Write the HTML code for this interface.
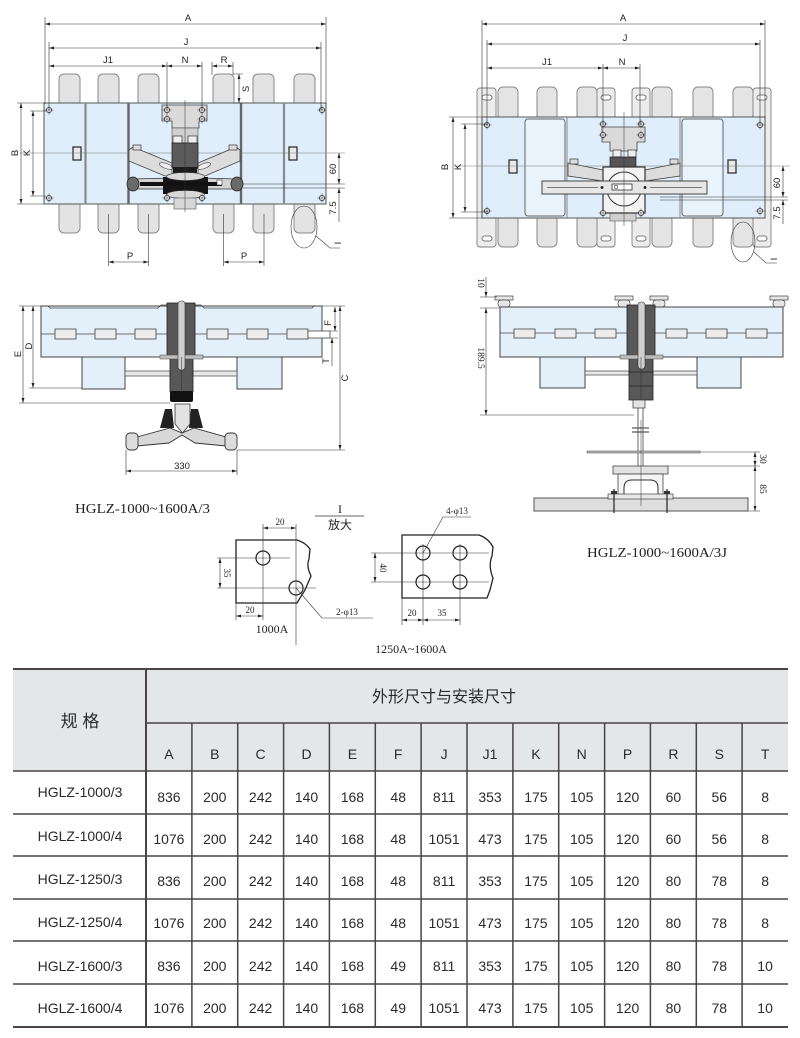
<!DOCTYPE html>
<html><head><meta charset="utf-8"><style>
html,body{margin:0;padding:0;background:#fff}
svg{display:block}
.s{font-family:"Liberation Sans",sans-serif}
.r{font-family:"Liberation Serif",serif}
.c{font-family:"Liberation Sans","Noto Sans CJK SC",sans-serif}
.d{marker-start:url(#m);marker-end:url(#m)}
.de{marker-end:url(#m)}
.ds{marker-start:url(#m)}
</style></head><body>
<svg width="800" height="1038" viewBox="0 0 800 1038" xmlns="http://www.w3.org/2000/svg">
<defs>
<marker id="m" viewBox="0 0 10 6" refX="10" refY="3" markerWidth="5" markerHeight="3" markerUnits="userSpaceOnUse" orient="auto-start-reverse"><path d="M0,0L10,3L0,6z" fill="#222"/></marker>
<g id="h"><circle r="2.6" fill="#fff" stroke="#333" stroke-width=".8"/><path d="M-4.5,0H4.5M0,-4.5V4.5" stroke="#333" stroke-width=".5"/></g>
</defs>
<rect width="800" height="1038" fill="#fff"/>

<!-- ================= LEFT TOP VIEW ================= -->
<g fill="#e3e3e3" stroke="#8a8a8a" stroke-width="1">
<rect x="59" y="74" width="21" height="34" rx="5"/>
<rect x="98" y="74" width="21" height="34" rx="5"/>
<rect x="138" y="74" width="21" height="34" rx="5"/>
<rect x="213" y="74" width="21" height="34" rx="5"/>
<rect x="253" y="74" width="21" height="34" rx="5"/>
<rect x="294" y="74" width="21" height="34" rx="5"/>
<rect x="59" y="199" width="21" height="34" rx="5"/>
<rect x="98" y="199" width="21" height="34" rx="5"/>
<rect x="138" y="199" width="21" height="34" rx="5"/>
<rect x="213" y="199" width="21" height="34" rx="5"/>
<rect x="253" y="199" width="21" height="34" rx="5"/>
<rect x="294" y="199" width="21" height="34" rx="5"/>
</g>
<rect x="44" y="103" width="282" height="101" fill="#dfeefa" stroke="#555" stroke-width="1"/>
<line x1="85.5" y1="103" x2="85.5" y2="204" stroke="#8a8a8a" stroke-width="2.2"/>
<line x1="128.5" y1="103" x2="128.5" y2="204" stroke="#666" stroke-width="2.4"/>
<line x1="241" y1="103" x2="241" y2="204" stroke="#666" stroke-width="2.4"/>
<line x1="284" y1="103" x2="284" y2="204" stroke="#8a8a8a" stroke-width="2.2"/>
<rect x="73" y="147" width="8" height="13" fill="#e8e8e8" stroke="#333" stroke-width="1.3"/>
<rect x="289" y="147" width="8" height="13" fill="#e8e8e8" stroke="#333" stroke-width="1.3"/>
<line x1="20" y1="153" x2="345" y2="153" stroke="#777" stroke-width=".5"/>
<polygon points="162,105 207,105 207,121 199,121 199,128 172,128 172,121 162,121" fill="#dadada" stroke="#444" stroke-width=".8"/>
<rect x="172" y="128" width="26" height="15" fill="#d0d0d0" stroke="#555" stroke-width=".6"/>
<rect x="173" y="136" width="9" height="8" fill="#eee" stroke="#333" stroke-width=".7"/>
<rect x="188" y="136" width="9" height="8" fill="#eee" stroke="#333" stroke-width=".7"/>
<polygon points="129,150 133,147 172,163 172,176 165,176 129,161" fill="#dcdcdc" stroke="#444" stroke-width=".8"/>
<polygon points="240,150 236,147 198,163 198,176 205,176 240,161" fill="#dcdcdc" stroke="#444" stroke-width=".8"/>
<ellipse cx="166" cy="166" rx="7" ry="2.5" transform="rotate(20 166 166)" fill="#eee" stroke="#444" stroke-width=".6"/>
<ellipse cx="204" cy="166" rx="7" ry="2.5" transform="rotate(-20 204 166)" fill="#eee" stroke="#444" stroke-width=".6"/>
<rect x="133" y="145" width="8" height="5" fill="#ddd" stroke="#333" stroke-width=".7"/>
<rect x="229" y="145" width="8" height="5" fill="#ddd" stroke="#333" stroke-width=".7"/>
<rect x="172" y="143" width="26" height="25" fill="#5b5b5b" stroke="#222" stroke-width=".8"/>
<rect x="173" y="167" width="24" height="8" fill="#1c1c1c"/>
<polygon points="134,179 170,178 170,189 134,189" fill="#d5d5d5" stroke="#333" stroke-width=".7"/>
<polygon points="236,179 200,178 200,189 236,189" fill="#d5d5d5" stroke="#333" stroke-width=".7"/>
<rect x="163" y="177" width="45" height="17" fill="#151515"/>
<ellipse cx="185.5" cy="176.5" rx="19" ry="4" fill="#d8d8d8" stroke="#333" stroke-width=".6"/>
<ellipse cx="185.5" cy="194.5" rx="19" ry="4" fill="#d8d8d8" stroke="#333" stroke-width=".6"/>
<rect x="140" y="182" width="82" height="4" fill="#111"/>
<rect x="217" y="180" width="5" height="5" fill="#fff" stroke="#333" stroke-width=".6"/>
<ellipse cx="133" cy="184" rx="6" ry="7" fill="#6a6a6a" stroke="#222" stroke-width=".8"/>
<ellipse cx="237" cy="184" rx="6" ry="7" fill="#6a6a6a" stroke="#222" stroke-width=".8"/>
<rect x="174" y="198" width="22" height="11" fill="#d7d7d7" stroke="#555" stroke-width=".6"/>
<line x1="185" y1="100" x2="185" y2="212" stroke="#333" stroke-width=".5"/>
<use href="#h" x="49" y="110"/><use href="#h" x="49" y="198"/>
<use href="#h" x="322" y="110"/><use href="#h" x="322" y="198"/>
<use href="#h" x="167" y="110"/><use href="#h" x="202" y="110"/>
<use href="#h" x="167" y="119"/><use href="#h" x="202" y="119"/>
<use href="#h" x="167" y="198"/><use href="#h" x="202" y="198"/>
<g stroke="#333" stroke-width=".6" fill="none">
<path d="M45,17V104M326,17V104M49,42V110M321,42V110M167,62V110M202,62V110M212,62V75M233,62V75"/>
<path class="d" d="M45,24H326"/>
<path class="d" d="M49,48H321"/>
<path class="d" d="M49,66H167"/>
<path class="d" d="M167,66H202"/>
<path class="d" d="M212,66H233"/>
<path d="M233,74H243M233,103H243"/>
<path class="d" d="M239,74V103"/>
<path d="M17,103H44M17,204H44M30,111H46M30,196H46"/>
<path class="d" d="M21,103V204"/>
<path class="d" d="M33,111V196"/>
<path d="M243,184H345M243,188H345"/>
<path class="d" d="M339,153V184"/>
<path class="ds" d="M339,188V222"/>
<path d="M108.5,214V266M148.5,214V266M223.5,214V266M264,214V266"/>
<path class="d" d="M108.5,262H148.5"/>
<path class="d" d="M223.5,262H264"/>
<ellipse cx="304" cy="227" rx="13" ry="21"/>
<path d="M316,236L330,248H340"/>
</g>
<g class="s" font-size="9.5" fill="#222" text-anchor="middle">
<text x="188" y="21">A</text>
<text x="186" y="45">J</text>
<text x="108" y="63">J1</text>
<text x="185" y="63">N</text>
<text x="224" y="63">R</text>
<text x="130" y="259">P</text>
<text x="244" y="259">P</text>
<text transform="translate(249,89) rotate(-90)">S</text>
<text transform="translate(18,153) rotate(-90)">B</text>
<text transform="translate(30,153) rotate(-90)">K</text>
<text transform="translate(336,169) rotate(-90)">60</text>
<text transform="translate(336,208) rotate(-90)">7.5</text>
<text transform="translate(341,243) rotate(-90)">I</text>
</g>

<!-- ================= RIGHT TOP VIEW ================= -->
<g fill="#ececec" stroke="#808080" stroke-width=".9">
<rect x="477" y="88" width="19" height="159" rx="3"/>
<rect x="597" y="88" width="18" height="159" rx="3"/>
<rect x="632" y="88" width="18" height="159" rx="3"/>
<rect x="753" y="88" width="18" height="159" rx="3"/>
</g>
<g fill="#fff" stroke="#555" stroke-width=".8">
<rect x="482" y="95" width="10" height="5" rx="2.5"/><rect x="482" y="236" width="10" height="5" rx="2.5"/>
<rect x="601" y="95" width="10" height="5" rx="2.5"/><rect x="601" y="236" width="10" height="5" rx="2.5"/>
<rect x="636" y="95" width="10" height="5" rx="2.5"/><rect x="636" y="236" width="10" height="5" rx="2.5"/>
<rect x="757" y="95" width="10" height="5" rx="2.5"/><rect x="757" y="236" width="10" height="5" rx="2.5"/>
</g>
<g fill="#e4e4e4" stroke="#8a8a8a" stroke-width="1">
<rect x="498" y="87" width="20" height="33" rx="5"/>
<rect x="537" y="87" width="20" height="33" rx="5"/>
<rect x="577" y="87" width="20" height="33" rx="5"/>
<rect x="652" y="87" width="20" height="33" rx="5"/>
<rect x="693" y="87" width="20" height="33" rx="5"/>
<rect x="733" y="87" width="20" height="33" rx="5"/>
<rect x="498" y="215" width="20" height="32" rx="5"/>
<rect x="537" y="215" width="20" height="32" rx="5"/>
<rect x="577" y="215" width="20" height="32" rx="5"/>
<rect x="652" y="215" width="20" height="32" rx="5"/>
<rect x="693" y="215" width="20" height="32" rx="5"/>
<rect x="733" y="215" width="20" height="32" rx="5"/>
</g>
<rect x="482" y="117" width="283" height="101" fill="#dfeefa" stroke="#555" stroke-width="1"/>
<rect x="525" y="119" width="40" height="97" rx="3" fill="#e8f3fc" stroke="#666" stroke-width="1"/>
<rect x="682" y="119" width="41" height="97" rx="3" fill="#e8f3fc" stroke="#666" stroke-width="1"/>
<line x1="567" y1="117" x2="567" y2="218" stroke="#888" stroke-width="1"/>
<line x1="680" y1="117" x2="680" y2="218" stroke="#888" stroke-width="1"/>
<rect x="509" y="160" width="8" height="13" fill="#e8e8e8" stroke="#333" stroke-width="1.3"/>
<rect x="728" y="160" width="8" height="13" fill="#e8e8e8" stroke="#333" stroke-width="1.3"/>
<line x1="455" y1="166" x2="790" y2="166" stroke="#777" stroke-width=".5"/>
<polygon points="602,127 645,127 645,142 637,142 637,151 610,151 610,142 602,142" fill="#dadada" stroke="#444" stroke-width=".8"/>
<rect x="613" y="150" width="8" height="7" fill="#eee" stroke="#333" stroke-width=".7"/>
<rect x="628" y="150" width="8" height="7" fill="#eee" stroke="#333" stroke-width=".7"/>
<rect x="610" y="157" width="26" height="10" fill="#555" stroke="#222" stroke-width=".7"/>
<polygon points="568,163 603,170 603,181 568,176" fill="#dcdcdc" stroke="#444" stroke-width=".8"/>
<polygon points="680,163 645,170 645,181 680,176" fill="#dcdcdc" stroke="#444" stroke-width=".8"/>
<rect x="570" y="159" width="8" height="5" fill="#ddd" stroke="#333" stroke-width=".7"/>
<rect x="670" y="159" width="8" height="5" fill="#ddd" stroke="#333" stroke-width=".7"/>
<rect x="610" y="211" width="26" height="10" fill="#cfcfcf" stroke="#555" stroke-width=".6"/>
<rect x="603" y="167" width="42" height="46" fill="#f2f2f2" stroke="#333" stroke-width="1.2"/>
<circle cx="624" cy="189" r="17" fill="#f8f8f8" stroke="#333" stroke-width="1"/>
<rect x="542" y="181" width="165" height="13" fill="#e6e6e6" stroke="#444" stroke-width="1"/>
<path d="M547,187.5H598M650,187.5H702" stroke="#555" stroke-width=".7"/>
<rect x="612" y="184" width="20" height="6" fill="#fff" stroke="#333" stroke-width=".8"/>
<circle cx="616" cy="187" r="1.8" fill="none" stroke="#333" stroke-width=".6"/>
<circle cx="602" cy="187.5" r="1.4" fill="#111"/><circle cx="645" cy="187.5" r="1.4" fill="#111"/>
<line x1="624" y1="112" x2="624" y2="226" stroke="#333" stroke-width=".5"/>
<use href="#h" x="487" y="125"/><use href="#h" x="487" y="211"/>
<use href="#h" x="760" y="125"/><use href="#h" x="760" y="211"/>
<use href="#h" x="603" y="124"/><use href="#h" x="641" y="124"/>
<use href="#h" x="603" y="135"/><use href="#h" x="641" y="135"/>
<use href="#h" x="603" y="213"/><use href="#h" x="641" y="213"/>
<g stroke="#333" stroke-width=".6" fill="none">
<path d="M482,20V118M765,20V118M487,40V125M760,40V125M603,64V125M640,64V125"/>
<path class="d" d="M482,24H765"/>
<path class="d" d="M487,44H760"/>
<path class="d" d="M487,68H603"/>
<path class="d" d="M603,68H640"/>
<path d="M449,117H482M449,218H482M461,124H488M461,212H488"/>
<path class="d" d="M453,117V218"/>
<path class="d" d="M465,124V212"/>
<path d="M660,197H788M660,200H788"/>
<path class="d" d="M783,166V197"/>
<path class="ds" d="M783,200V224"/>
<ellipse cx="743" cy="242" rx="12" ry="20"/>
<path d="M754,252L766,263H777"/>
</g>
<g class="s" font-size="9.5" fill="#222" text-anchor="middle">
<text x="623" y="21">A</text>
<text x="625" y="41">J</text>
<text x="547" y="65">J1</text>
<text x="622" y="65">N</text>
<text transform="translate(448,167) rotate(-90)">B</text>
<text transform="translate(461,167) rotate(-90)">K</text>
<text transform="translate(780,183) rotate(-90)">60</text>
<text transform="translate(780,213) rotate(-90)">7.5</text>
<text transform="translate(777,259) rotate(-90)">I</text>
</g>

<!-- ================= LEFT SIDE VIEW ================= -->
<rect x="41" y="306" width="281" height="51" fill="#e3f0fa" stroke="#444" stroke-width="1"/>
<path d="M41,306H48L50,308H158L161,305H167M195,305H201L204,308H312L314,306H322" fill="none" stroke="#444" stroke-width=".8"/>
<line x1="41" y1="334" x2="322" y2="334" stroke="#444" stroke-width=".8"/>
<g fill="#ececec" stroke="#444" stroke-width=".8">
<rect x="55" y="329" width="21" height="10"/><rect x="95" y="329" width="21" height="10"/><rect x="135" y="329" width="21" height="10"/>
<rect x="207" y="329" width="21" height="10"/><rect x="247" y="329" width="21" height="10"/><rect x="287" y="329" width="21" height="10"/>
<rect x="308" y="331" width="22" height="7" fill="#fff"/>
</g>
<rect x="82" y="357" width="43" height="32" fill="#e3f0fa" stroke="#444" stroke-width="1"/>
<rect x="237" y="357" width="45" height="32" fill="#e3f0fa" stroke="#444" stroke-width="1"/>
<rect x="125" y="371" width="45" height="5" fill="#e8e8e8" stroke="#444" stroke-width=".7"/>
<rect x="193" y="371" width="44" height="5" fill="#e8e8e8" stroke="#444" stroke-width=".7"/>
<rect x="167" y="303" width="28" height="54" fill="#585858" stroke="#222" stroke-width=".8"/>
<rect x="170" y="357" width="23" height="35" fill="#585858" stroke="#222" stroke-width=".8"/>
<rect x="170" y="391" width="23" height="11" rx="2" fill="#111"/>
<rect x="160" y="355" width="43" height="4" fill="#bdbdbd" stroke="#444" stroke-width=".5"/>
<rect x="178" y="301" width="7" height="69" rx="3" fill="#cfcfcf" stroke="#333" stroke-width=".6"/>
<line x1="181.5" y1="357" x2="181.5" y2="392" stroke="#333" stroke-width=".5"/>
<polygon points="165,409 172,409 174,428 160,428" fill="#222"/>
<polygon points="191,409 198,409 203,428 189,428" fill="#222"/>
<path d="M175,404H190V424L182.5,433L175,424Z" fill="#e2e2e2" stroke="#333" stroke-width=".8"/>
<polygon points="137,437 170,428 182,433 194,428 226,437 226,446 195,443 182,435 169,443 137,446" fill="#d8d8d8" stroke="#333" stroke-width=".9"/>
<rect x="126" y="433" width="12" height="17" rx="4" fill="#dcdcdc" stroke="#333" stroke-width=".9"/>
<rect x="225" y="433" width="12" height="17" rx="4" fill="#dcdcdc" stroke="#333" stroke-width=".9"/>
<g stroke="#333" stroke-width=".6" fill="none">
<path d="M19,306H41M29,388H82M19,403H170"/>
<path class="d" d="M23,306V403"/>
<path class="d" d="M33,306V388"/>
<path d="M322,306H345M237,450H345M330,331H338M330,338H338"/>
<path class="d" d="M340,306V450"/>
<path class="d" d="M335,307V331"/>
<path class="ds" d="M332,338V366"/>
<path d="M126,450V475M237,450V475"/>
<path class="d" d="M126,471H237"/>
</g>
<g class="s" font-size="9.5" fill="#222" text-anchor="middle">
<text transform="translate(21,354) rotate(-90)">E</text>
<text transform="translate(32,346) rotate(-90)">D</text>
<text transform="translate(348,378) rotate(-90)">C</text>
<text transform="translate(331,323) rotate(-90)">F</text>
<text transform="translate(329,361) rotate(-90)">T</text>
<text x="182" y="469">330</text>
</g>
<text x="75" y="513" class="r" font-size="14" fill="#222" textLength="135" lengthAdjust="spacingAndGlyphs">HGLZ-1000~1600A/3</text>

<!-- ================= RIGHT SIDE VIEW ================= -->
<g fill="#e6e6e6" stroke="#444" stroke-width=".7">
<rect x="495" y="296" width="18" height="4"/><rect x="498" y="300" width="12" height="7" rx="3"/>
<rect x="615" y="296" width="18" height="4"/><rect x="618" y="300" width="12" height="7" rx="3"/>
<rect x="650" y="296" width="18" height="4"/><rect x="653" y="300" width="12" height="7" rx="3"/>
<rect x="770" y="296" width="18" height="4"/><rect x="773" y="300" width="12" height="7" rx="3"/>
</g>
<rect x="500" y="307" width="283" height="50" fill="#e3f0fa" stroke="#444" stroke-width="1"/>
<line x1="500" y1="333" x2="783" y2="333" stroke="#444" stroke-width=".8"/>
<g fill="#ececec" stroke="#444" stroke-width=".8">
<rect x="514" y="329" width="21" height="9"/><rect x="555" y="329" width="21" height="9"/><rect x="595" y="329" width="21" height="9"/>
<rect x="666" y="329" width="21" height="9"/><rect x="706" y="329" width="21" height="9"/><rect x="746" y="329" width="21" height="9"/>
</g>
<rect x="540" y="357" width="45" height="31" fill="#e3f0fa" stroke="#444" stroke-width="1"/>
<rect x="697" y="357" width="44" height="31" fill="#e3f0fa" stroke="#444" stroke-width="1"/>
<rect x="585" y="371" width="44" height="4" fill="#e8e8e8" stroke="#444" stroke-width=".7"/>
<rect x="653" y="371" width="44" height="4" fill="#e8e8e8" stroke="#444" stroke-width=".7"/>
<rect x="627" y="305" width="28" height="52" fill="#585858" stroke="#222" stroke-width=".8"/>
<rect x="629" y="357" width="24" height="43" fill="#585858" stroke="#222" stroke-width=".8"/>
<path d="M629,372H653M629,386H653" stroke="#222" stroke-width=".8"/>
<rect x="620" y="355" width="43" height="4" fill="#bdbdbd" stroke="#444" stroke-width=".5"/>
<rect x="638" y="302" width="7" height="67" rx="3" fill="#cfcfcf" stroke="#333" stroke-width=".6"/>
<line x1="641" y1="357" x2="641" y2="400" stroke="#333" stroke-width=".5"/>
<rect x="633" y="400" width="12" height="8" fill="#e2e2e2" stroke="#333" stroke-width=".7"/>
<path d="M638,408V503M643,408V503" stroke="#444" stroke-width=".8"/>
<path d="M632,428H649M632,432H649" stroke="#333" stroke-width="1"/>
<rect x="587" y="451" width="113" height="2" fill="#bbb" stroke="#444" stroke-width=".5"/>
<rect x="613" y="466" width="55" height="8" fill="#e2e2e2" stroke="#444" stroke-width=".8"/>
<rect x="618" y="474" width="45" height="24" fill="#f4f4f4" stroke="#444" stroke-width=".8"/>
<path d="M624,496V488Q624,480 632,480H650Q658,480 658,488V496Z" fill="#fff" stroke="#333" stroke-width="1"/>
<rect x="534" y="498" width="214" height="13" fill="#dedede" stroke="#444" stroke-width=".9"/>
<rect x="608" y="494" width="65" height="5" fill="#e8e8e8" stroke="#444" stroke-width=".7"/>
<path d="M614,489V513M667,489V513" stroke="#222" stroke-width="1.2"/>
<rect x="611" y="491" width="6" height="3" fill="#333"/><rect x="664" y="491" width="6" height="3" fill="#333"/>
<line x1="641" y1="420" x2="641" y2="506" stroke="#333" stroke-width=".5"/>
<g stroke="#333" stroke-width=".6" fill="none">
<path d="M480,297H497M480,308H500M480,415H634"/>
<path class="ds" d="M486,297V277"/>
<path class="d" d="M486,308V415"/>
<path d="M700,452H760M668,466H760M748,511H760"/>
<path class="d" d="M755,452V466"/>
<path class="d" d="M755,466V511"/>
</g>
<g class="r" font-size="9.5" fill="#222" text-anchor="middle">
<text transform="translate(478,283) rotate(90)">10</text>
<text transform="translate(478,358) rotate(90)">189.5</text>
<text transform="translate(760,459) rotate(90)">30</text>
<text transform="translate(760,489) rotate(90)">85</text>
</g>
<text x="587" y="557" class="r" font-size="14" fill="#222" textLength="140" lengthAdjust="spacingAndGlyphs">HGLZ-1000~1600A/3J</text>

<!-- ================= DETAIL I ================= -->
<text x="340" y="513" class="r" font-size="12" fill="#222" text-anchor="middle">I</text>
<line x1="315" y1="516" x2="364" y2="516" stroke="#333" stroke-width=".8"/>
<text x="340" y="529" class="c" font-size="12" fill="#222" text-anchor="middle">放大</text>
<path d="M236,540H297Q306,543 310,549L309,559Q306,566 311,576L305,590L297,603H236Z" fill="#fff" stroke="#222" stroke-width="1.3"/>
<circle cx="263" cy="558" r="7" fill="none" stroke="#222" stroke-width="1.2"/>
<circle cx="296" cy="588" r="7" fill="none" stroke="#222" stroke-width="1.2"/>
<g stroke="#333" stroke-width=".6" fill="none">
<path d="M217,558H290M217,588H316M263,524V620M296,524V645M236,603V620"/>
<path class="d" d="M263,528H296"/>
<path class="d" d="M220,558V588"/>
<path class="d" d="M236,616H263"/>
<path d="M296,588L322,618H373"/>
</g>
<g class="r" font-size="9" fill="#222" text-anchor="middle">
<text x="280" y="525">20</text>
<text x="250" y="613">20</text>
<text transform="translate(224,573) rotate(90)">35</text>
<text x="347" y="615">2-φ13</text>
</g>
<text x="272" y="633" class="r" font-size="12" fill="#222" text-anchor="middle">1000A</text>
<path d="M402,535H479Q488,538 493,547L492,556Q488,566 493,578L490,590L487,598H402Z" fill="#fff" stroke="#222" stroke-width="1.3"/>
<circle cx="423" cy="553" r="7" fill="none" stroke="#222" stroke-width="1.2"/>
<circle cx="460" cy="553" r="7" fill="none" stroke="#222" stroke-width="1.2"/>
<circle cx="423" cy="582" r="7" fill="none" stroke="#222" stroke-width="1.2"/>
<circle cx="460" cy="582" r="7" fill="none" stroke="#222" stroke-width="1.2"/>
<g stroke="#333" stroke-width=".6" fill="none">
<path d="M371,553H489M371,582H489M423,544V625M460,544V625M402,598V625"/>
<path class="d" d="M375,553V582"/>
<path class="d" d="M402,620H423"/>
<path class="d" d="M423,620H460"/>
<path d="M423,553L443,517H471"/>
</g>
<g class="r" font-size="9" fill="#222" text-anchor="middle">
<text transform="translate(380,568) rotate(90)">40</text>
<text x="412" y="616">20</text>
<text x="442" y="616">35</text>
<text x="457" y="514">4-φ13</text>
</g>
<text x="411" y="653" class="r" font-size="12" fill="#222" text-anchor="middle">1250A~1600A</text>

<!-- ================= TABLE ================= -->
<rect x="13" y="669" width="775" height="102" fill="#e5e6e8"/>
<g stroke="#4a4444" fill="none">
<path d="M13,669H788" stroke-width="2"/>
<path d="M146,723H788" stroke-width="1.5"/>
<path d="M13,771H788M13,814H788M13,856H788M13,899H788M13,941H788M13,984H788" stroke-width="1.5"/>
<path d="M13,1027H788" stroke-width="2"/>
<path d="M146,669V1027" stroke-width="2"/>
<path d="M191.9,723V1027M237.7,723V1027M283.6,723V1027M329.4,723V1027M375.3,723V1027M421.1,723V1027M467,723V1027M512.9,723V1027M558.7,723V1027M604.6,723V1027M650.4,723V1027M696.3,723V1027M742.1,723V1027" stroke-width="1.5"/>
</g>
<g class="c" fill="#2a2a2a">
<text x="80" y="727" font-size="17" text-anchor="middle">规 格</text>
<text x="372" y="702" font-size="16">外形尺寸与安装尺寸</text>
</g>
<g class="s" font-size="14" fill="#2a2a2a" text-anchor="middle">
<text y="759"><tspan x="168.9">A</tspan><tspan x="214.8">B</tspan><tspan x="260.6">C</tspan><tspan x="306.5">D</tspan><tspan x="352.4">E</tspan><tspan x="398.2">F</tspan><tspan x="444.1">J</tspan><tspan x="490">J1</tspan><tspan x="535.9">K</tspan><tspan x="581.7">N</tspan><tspan x="627.6">P</tspan><tspan x="673.4">R</tspan><tspan x="719.3">S</tspan><tspan x="765.1">T</tspan></text>
<text x="80" y="797">HGLZ-1000/3</text>
<text x="80" y="841">HGLZ-1000/4</text>
<text x="80" y="884">HGLZ-1250/3</text>
<text x="80" y="927">HGLZ-1250/4</text>
<text x="80" y="971">HGLZ-1600/3</text>
<text x="80" y="1013">HGLZ-1600/4</text>
<text y="802"><tspan x="168.9">836</tspan><tspan x="214.8">200</tspan><tspan x="260.6">242</tspan><tspan x="306.5">140</tspan><tspan x="352.4">168</tspan><tspan x="398.2">48</tspan><tspan x="444.1">811</tspan><tspan x="490">353</tspan><tspan x="535.9">175</tspan><tspan x="581.7">105</tspan><tspan x="627.6">120</tspan><tspan x="673.4">60</tspan><tspan x="719.3">56</tspan><tspan x="765.1">8</tspan></text>
<text y="844"><tspan x="168.9">1076</tspan><tspan x="214.8">200</tspan><tspan x="260.6">242</tspan><tspan x="306.5">140</tspan><tspan x="352.4">168</tspan><tspan x="398.2">48</tspan><tspan x="444.1">1051</tspan><tspan x="490">473</tspan><tspan x="535.9">175</tspan><tspan x="581.7">105</tspan><tspan x="627.6">120</tspan><tspan x="673.4">60</tspan><tspan x="719.3">56</tspan><tspan x="765.1">8</tspan></text>
<text y="886"><tspan x="168.9">836</tspan><tspan x="214.8">200</tspan><tspan x="260.6">242</tspan><tspan x="306.5">140</tspan><tspan x="352.4">168</tspan><tspan x="398.2">48</tspan><tspan x="444.1">811</tspan><tspan x="490">353</tspan><tspan x="535.9">175</tspan><tspan x="581.7">105</tspan><tspan x="627.6">120</tspan><tspan x="673.4">80</tspan><tspan x="719.3">78</tspan><tspan x="765.1">8</tspan></text>
<text y="928"><tspan x="168.9">1076</tspan><tspan x="214.8">200</tspan><tspan x="260.6">242</tspan><tspan x="306.5">140</tspan><tspan x="352.4">168</tspan><tspan x="398.2">48</tspan><tspan x="444.1">1051</tspan><tspan x="490">473</tspan><tspan x="535.9">175</tspan><tspan x="581.7">105</tspan><tspan x="627.6">120</tspan><tspan x="673.4">80</tspan><tspan x="719.3">78</tspan><tspan x="765.1">8</tspan></text>
<text y="971"><tspan x="168.9">836</tspan><tspan x="214.8">200</tspan><tspan x="260.6">242</tspan><tspan x="306.5">140</tspan><tspan x="352.4">168</tspan><tspan x="398.2">49</tspan><tspan x="444.1">811</tspan><tspan x="490">353</tspan><tspan x="535.9">175</tspan><tspan x="581.7">105</tspan><tspan x="627.6">120</tspan><tspan x="673.4">80</tspan><tspan x="719.3">78</tspan><tspan x="765.1">10</tspan></text>
<text y="1013"><tspan x="168.9">1076</tspan><tspan x="214.8">200</tspan><tspan x="260.6">242</tspan><tspan x="306.5">140</tspan><tspan x="352.4">168</tspan><tspan x="398.2">49</tspan><tspan x="444.1">1051</tspan><tspan x="490">473</tspan><tspan x="535.9">175</tspan><tspan x="581.7">105</tspan><tspan x="627.6">120</tspan><tspan x="673.4">80</tspan><tspan x="719.3">78</tspan><tspan x="765.1">10</tspan></text>
</g>
</svg>
</body></html>
